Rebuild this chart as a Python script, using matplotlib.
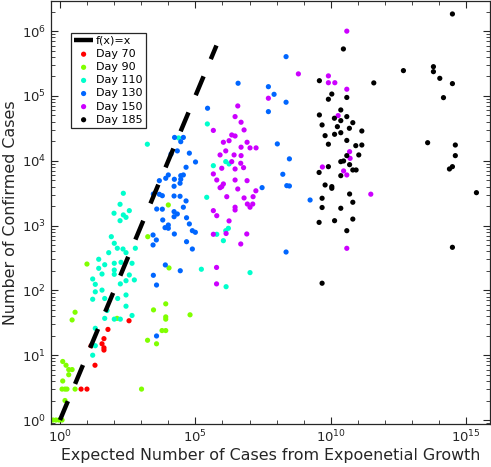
import numpy as np
import matplotlib
matplotlib.use("Agg")
import matplotlib.pyplot as plt
from matplotlib.ticker import LogLocator, NullFormatter

# Day 70
day70_x = [6.0, 9.9, 19.6, 14, 35.6, 42, 42, 42, 59, 354]
day70_y = [3, 3, 7, 14, 15, 18, 13, 12, 25, 34]

# Day 90
day90_x = [0.55, 0.71, 0.92, 1.19, 1.19, 1.53, 1.81, 3.6, 1.53, 1.26, 1.26, 1.67, 2.1, 2.8, 2.1,
           2.8, 3.6, 9.9, 128, 1025, 1710, 2840, 3670, 5860, 8030, 8030, 8030, 8030,
           10600, 63400, 1740, 10000]
day90_y = [1, 1, 1, 1, 3, 3, 3, 3, 2, 4, 8, 7, 6, 6, 5,
           35, 46, 255, 37, 3, 17, 50, 15, 24, 24, 39, 36, 62,
           222, 42, 674, 2080]

# Day 110
day110_x = [78.5, 101, 131, 212, 274, 605, 63, 26.9, 44.8, 101, 179, 457, 26.9, 101, 101, 35.6,
            363, 16.1, 274, 556, 169, 20.1, 35.6, 20.1, 274, 44.8, 16.1, 135, 54.5, 274, 44.8,
            101, 169, 457, 20.1, 16.1, 20.1,
            1680, 218, 165, 98.8, 218, 274, 363, 165, 23900, 276000, 460000, 1.32e6, 1.75e6,
            262000, 1.65e6, 1.32e6, 615000, 1.08e6, 166000, 1.36e6, 1.04e7]
day110_y = [674, 533, 447, 435, 382, 447, 382, 302, 249, 262, 271, 262, 219, 206, 177, 179,
            173, 150, 141, 145, 126, 124, 101, 95, 85, 75, 73, 75, 49, 57, 37,
            36, 36, 41, 26, 10, 14,
            18000, 3150, 2130, 1550, 1460, 1340, 1700, 1190, 22500, 37000, 8400, 9700, 8930,
            2730, 908, 834, 734, 585, 212, 114, 188]

# Day 130
day130_x = [2.81e5, 3.77e6, 2.23e8, 4.96e7, 8.04e7, 2.23e8, 4.96e7, 1.06e8, 2.96e8, 1.69e8,
            2.37e8, 2.96e8, 2.9e7, 1.72e9, 2.23e8,
            1.70e4, 3.59e4, 2.88e4, 2.15e4, 1.26e4, 5.98e4, 1.01e5, 4.52e4, 1.0e4, 3.59e4,
            2.88e4, 8030, 4660, 1.67e4, 2.88e4, 2.71e4, 1.63e4, 2800, 4660, 6010, 1.63e4,
            2.71e4, 4.52e4, 3730, 6010, 1.63e4, 2.15e4, 1.63e4, 3.59e4, 6220, 4.71e4, 5.98e4,
            1.0e4, 7560, 1.0e4, 7.72e4, 9.96e4, 1.67e4, 4.71e4, 7.72e4, 7760, 2.76e4,
            2730, 3610, 2730, 2800, 3670, 3670]
day130_y = [6.46e4, 1.57e5, 4.04e5, 1.39e5, 1.06e5, 8.0e4, 5.73e4, 1.82e4, 1.07e4, 6190,
            4130, 4080, 3850, 2480, 391,
            2.29e4, 2.29e4, 1.97e4, 1.42e4, 1.27e4, 1.31e4, 9580, 7940, 6040, 6040,
            5890, 5370, 4930, 5180, 5180, 4500, 4040, 3070, 3040, 2890, 2860,
            2830, 2400, 1800, 1790, 1640, 1510, 1370, 1920, 1220, 1320, 1060,
            1020, 929, 909, 834, 788, 742, 564, 435, 247, 201,
            716, 600, 502, 171, 121, 19.8]

# Day 150
day150_x = [3.67e6, 2.92e6, 4.86e6, 4.6e5, 6.27e6, 2.2e6, 2.92e6, 1.08e6, 1.75e6, 8.09e6,
            4.86e6, 1.04e7, 1.74e7, 1.32e6, 8.15e5, 2.68e6, 4.86e6, 2.2e6, 4.73e6, 9.4e5,
            2.92e6, 6.01e6, 4.6e5, 6.15e5, 2.92e6, 8.09e6, 1.08e6, 9.4e5, 8.15e5, 3.67e6,
            1.71e7, 1.44e6, 6.27e6, 1.35e7, 4.6e5, 6.15e5, 2.92e6, 2.92e6, 8.3e6, 1.31e7,
            1.04e7, 1.75e6, 4.6e5, 1.36e6, 7.89e6, 4.73e6, 6.04e5, 6.04e5,
            6.35e8, 4.96e7, 8.15e9, 8.15e9, 1.41e10, 3.9e10, 3.9e10, 1.86e10, 4.95e10,
            5.17e10, 4.9e9, 2.97e10, 3.9e10, 3.0e11, 3.9e10]
day150_y = [7.01e4, 4.8e4, 3.93e4, 2.94e4, 2.99e4, 2.5e4, 2.41e4, 1.93e4, 2.04e4, 1.93e4,
            1.62e4, 1.58e4, 1.58e4, 1.42e4, 1.23e4, 1.23e4, 1.2e4, 9690, 9150, 7660,
            7470, 7830, 6260, 5050, 5050, 4930, 4390, 3990, 3840, 3670,
            3440, 2790, 2670, 2790, 1700, 1420, 1920, 1740, 2150, 2150,
            1920, 1180, 734, 755, 742, 520, 226, 126,
            2.19e5, 9.22e4, 2.04e5, 1.6e5, 1.6e5, 1.0e6, 1.27e5, 4.97e4, 1.38e4,
            1.09e4, 8020, 6970, 6040, 3050, 446]

# Day 185
day185_x = [2.92e10, 3.79e9, 3.87e11, 1.09e10, 8.15e9, 3.9e10, 2.34e10, 3.79e9, 3.9e10, 1.36e10,
            2.34e10, 6.5e10, 4.77e9, 1.75e10, 4.86e10, 1.4e11, 6.16e9, 1.38e10, 2.34e10, 3.9e10,
            8.15e9, 8.38e10, 1.4e11, 3.9e10, 1.08e11, 2.34e10, 2.97e10, 4.95e10, 8.15e9, 3.7e9,
            2.34e10, 6.5e10, 8.6e10, 6.16e9, 1.09e10, 1.09e10, 4.95e10, 6.5e10, 4.77e9, 4.77e9,
            2.34e10, 3.7e9, 1.38e10, 6.5e10, 3.9e10, 4.77e9,
            4.81e12, 6.17e13, 6.17e13, 1.06e14, 3.1e14, 1.45e14, 3.1e14, 3.77e13, 3.97e14,
            3.97e14, 3.1e14, 2.41e14, 2.39e15, 3.1e14]
day185_y = [5.31e5, 1.72e5, 1.59e5, 1.07e5, 8.9e4, 9.48e4, 6.08e4, 5.09e4, 4.8e4, 4.53e4,
            4.16e4, 3.87e4, 3.57e4, 3.36e4, 3.17e4, 2.88e4, 2.44e4, 2.56e4, 2.71e4, 2.06e4,
            1.8e4, 1.71e4, 1.75e4, 1.2e4, 1.23e4, 9690, 9930, 8710, 8110, 6600,
            5890, 7210, 7210, 4230, 3990, 3760, 3070, 2290, 2640, 1900,
            1850, 1120, 1190, 1260, 834, 129,
            2.46e5, 2.83e5, 2.37e5, 1.87e5, 1.55e5, 9.42e4, 1.84e6, 1.9e4, 1.75e4,
            1.2e4, 8110, 7470, 3220, 462]

line_x = [1, 6e5]

groups = [("Day 70", day70_x, day70_y, "#ff0000"),
          ("Day 90", day90_x, day90_y, "#80ff00"),
          ("Day 110", day110_x, day110_y, "#00ffcc"),
          ("Day 130", day130_x, day130_y, "#0066ff"),
          ("Day 150", day150_x, day150_y, "#cc00ff"),
          ("Day 185", day185_x, day185_y, "#000000")]

plt.rcParams["font.family"] = "DejaVu Sans"
fig = plt.figure(figsize=(4.91, 4.67), dpi=100)
ax = fig.add_axes([0.104, 0.092, 0.894, 0.906])

ax.plot(line_x, line_x, color="black", lw=3.2, linestyle=(0, (4.6, 4.2)),
        label="f(x)=x", zorder=3)
for name, xs, ys, col in groups:
    ax.scatter(xs, ys, s=14, color=col, edgecolors="none", label=name, zorder=2)

ax.set_xscale("log")
ax.set_yscale("log")
ax.set_xlim(10 ** -0.33, 10 ** 15.88)
ax.set_ylim(10 ** -0.062, 10 ** 6.466)

ax.set_xticks([1, 1e5, 1e10, 1e15])
ax.xaxis.set_minor_locator(LogLocator(base=10, subs=[1.0], numticks=30))
ax.xaxis.set_minor_formatter(NullFormatter())
ax.set_xticks([1, 1e5, 1e10, 1e15])
ax.yaxis.set_major_locator(LogLocator(base=10, numticks=20))
ax.yaxis.set_minor_locator(LogLocator(base=10, subs=np.arange(2, 10), numticks=20))
ax.yaxis.set_minor_formatter(NullFormatter())

dark = "#262626"
ax.tick_params(which="both", direction="in", top=True, right=True, colors=dark,
               labelsize=9.5)
ax.tick_params(which="major", length=5, width=0.8)
ax.tick_params(which="minor", length=3, width=0.6)
for sp in ax.spines.values():
    sp.set_color(dark)
    sp.set_linewidth(0.9)

ax.set_xlabel("Expected Number of Cases from Expoenetial Growth", fontsize=11.4,
              color=dark, labelpad=1.5)
ax.set_ylabel("Number of Confirmed Cases", fontsize=11.4, color=dark, labelpad=2.5)

leg = ax.legend(loc="upper left", bbox_to_anchor=(0.045, 0.925), borderaxespad=0,
                fontsize=8, labelspacing=0.28, handlelength=1.7, handletextpad=0.25,
                borderpad=0.3, fancybox=False, framealpha=1, edgecolor=dark,
                scatterpoints=1, markerscale=1.0)
leg.get_frame().set_linewidth(0.9)

fig.savefig("out.png", dpi=100)
